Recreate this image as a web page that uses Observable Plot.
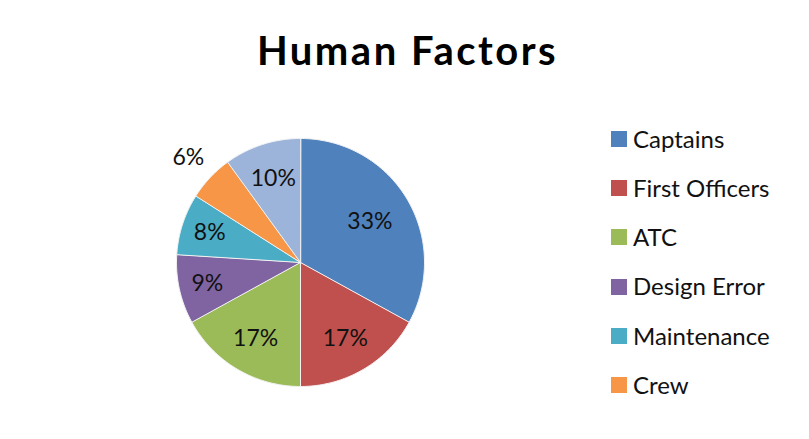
<!DOCTYPE html>
<html>
<head>
<meta charset="utf-8">
<script src="https://cdn.jsdelivr.net/npm/d3@7"></script>
<script src="https://cdn.jsdelivr.net/npm/@observablehq/plot@0.6"></script>
<style>
  html, body { margin: 0; padding: 0; background: #fff; }
  #wrap { position: relative; width: 809px; height: 439px; overflow: hidden; font-family: Lato, "Open Sans", sans-serif; color: #111; }
  #title { position: absolute; left: 0; top: 30px; width: 815px; text-align: center; font-weight: bold; font-size: 40px; line-height: 40px; letter-spacing: 2.5px; color: #000; }
  #chart { position: absolute; left: 0; top: 80px; }
  #legend { position: absolute; left: 611px; top: 113.8px; }
  .item { height: 49.2px; line-height: 49.2px; font-size: 24px; white-space: nowrap; position: relative; }
  .sw { position: absolute; left: 0; top: 17.2px; width: 16px; height: 16px; }
  .lbl { position: absolute; left: 22px; top: 0; }
</style>
</head>
<body>
<div id="wrap">
  <div id="title">Human Factors</div>
  <div id="chart"></div>
  <div id="legend"></div>
</div>
<script>
// ---- data ----
const categories = ["Captains", "First Officers", "ATC", "Design Error", "Maintenance", "Crew", "Other"];
const values = [33, 17, 17, 9, 8, 6, 10];
const colors = ["#4F81BD", "#C0504D", "#9BBB59", "#8064A2", "#4BACC6", "#F79646", "#9DB4DA"];
const legendCategories = ["Captains", "First Officers", "ATC", "Design Error", "Maintenance", "Crew"];

// ---- build slices ----
const data = categories.map((c, i) => ({category: c, value: values[i]}));
const arcs = d3.pie().sort(null).value(d => d.value).startAngle(0).endAngle(2 * Math.PI)(data);

const pts = [];
for (const a of arcs) {
  const c = a.data.category;
  pts.push({category: c, x: 0, y: 0});
  const n = Math.max(2, Math.ceil((a.endAngle - a.startAngle) / (Math.PI / 180)));
  for (let k = 0; k <= n; k++) {
    const t = a.startAngle + (a.endAngle - a.startAngle) * k / n;
    pts.push({category: c, x: Math.sin(t), y: Math.cos(t)});
  }
}

function labelRadius(v) {
  if (v >= 30) return 0.65;
  if (v >= 10) return 0.71;
  if (v >= 7) return 0.77;
  return 1.24;
}
const labels = arcs.map(a => {
  const m = (a.startAngle + a.endAngle) / 2;
  const r = labelRadius(a.data.value);
  return {x: r * Math.sin(m), y: r * Math.cos(m), text: a.data.value + "%"};
});

const R = 124;
const chart = Plot.plot({
  width: 809,
  height: 359,
  marginLeft: 300 - R,
  marginRight: 809 - 300 - R,
  marginTop: 182 - R,
  marginBottom: 359 - 182 - R,
  x: {domain: [-1, 1], axis: null},
  y: {domain: [-1, 1], axis: null},
  color: {domain: categories, range: colors},
  style: {fontFamily: "Lato, 'Open Sans', sans-serif", background: "transparent", overflow: "visible"},
  marks: [
    Plot.line(pts, {x: "x", y: "y", z: "category", fill: "category", stroke: "#f2f2f2", strokeWidth: 1, curve: "linear-closed"}),
    Plot.text(labels, {x: "x", y: "y", text: "text", fontSize: 23, fill: "#111"})
  ]
});
document.getElementById("chart").appendChild(chart);

// ---- legend ----
const legend = document.getElementById("legend");
legendCategories.forEach(c => {
  const i = categories.indexOf(c);
  const item = document.createElement("div");
  item.className = "item";
  item.innerHTML = `<span class="sw" style="background:${colors[i]}"></span><span class="lbl">${c}</span>`;
  legend.appendChild(item);
});
</script>
</body>
</html>
